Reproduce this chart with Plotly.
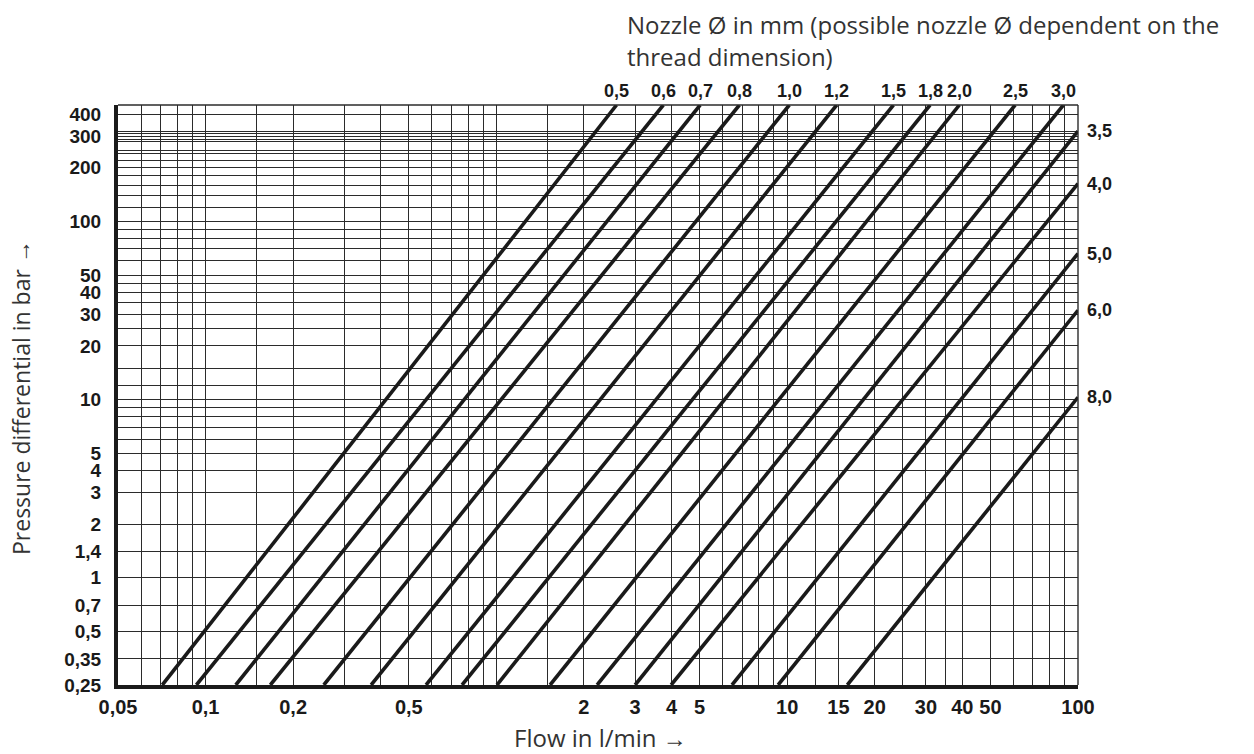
import numpy as np
import plotly.graph_objects as go

# ---------------- data ----------------
# vertical grid (flow, l/min) and horizontal grid (pressure, bar)
flow_grid = [0.05, 0.06, 0.07, 0.08, 0.09, 0.1, 0.15, 0.2, 0.3, 0.4, 0.5, 0.6, 0.7,
             0.8, 0.9, 1, 1.5, 2, 3, 4, 5, 6, 7, 8, 9, 10, 12.5, 15, 20, 25, 30,
             35, 40, 50, 60, 70, 80, 90, 100]
pressure_grid = [0.25, 0.35, 0.5, 0.7, 1, 1.4, 2, 3, 4, 5, 6, 7, 8, 9, 10, 12, 15,
                 20, 25, 30, 35, 40, 45, 50, 60, 70, 80, 90, 100, 120, 140, 160,
                 180, 200, 220, 240, 250, 280, 290, 300, 310, 320, 400]

flow_tick_vals = [0.05, 0.1, 0.2, 0.5, 2, 3, 4, 5, 10, 15, 20, 30, 40, 50, 100]
flow_tick_text = ["0,05", "0,1", "0,2", "0,5", "2", "3", "4", "5", "10", "15",
                  "20", "30", "40", "50", "100"]
pressure_tick_vals = [0.25, 0.35, 0.5, 0.7, 1, 1.4, 2, 3, 4, 5, 10, 20, 30, 40,
                      50, 100, 200, 300, 400]
pressure_tick_text = ["0,25", "0,35", "0,5", "0,7", "1", "1,4", "2", "3", "4", "5",
                      "10", "20", "30", "40", "50", "100", "200", "300", "400"]

# nozzle lines: start point (flow, pressure) and end point (flow, pressure)
nozzle_labels = ["0,5", "0,6", "0,7", "0,8", "1,0", "1,2", "1,5", "1,8", "2,0",
                 "2,5", "3,0", "3,5", "4,0", "5,0", "6,0", "8,0"]
flow_start = [0.071, 0.093, 0.127, 0.167, 0.255, 0.371, 0.573, 0.762, 1.005,
              1.53, 2.22, 3.0, 3.99, 6.46, 9.31, 16.1]
pressure_start = [0.25] * 16
flow_end = [2.59, 3.75, 5.02, 6.85, 10.17, 14.8, 23.2, 31.0, 39.1, 60.8, 89.1,
            100, 100, 100, 100, 100]
pressure_end = [450, 450, 450, 450, 450, 450, 450, 450, 450, 450, 450,
                321, 163, 66, 31.7, 10.3]

X_MIN, X_MAX = 0.05, 100
Y_MIN, Y_MAX = 0.25, 450

# ---------------- figure ----------------
TICK_FONT = dict(family="Liberation Sans Narrow, Arial Narrow, Liberation Sans",
                 size=20, color="#1a1a1a", weight="bold")
YTICK_FONT = dict(TICK_FONT, size=19)
TEXT_FONT = dict(family="Open Sans, Noto Sans, sans-serif", size=24, color="#333333")
GRID = "#2b2b2b"

fig = go.Figure()
for i, lab in enumerate(nozzle_labels):
    fig.add_trace(go.Scatter(
        x=[flow_start[i], flow_end[i]], y=[pressure_start[i], pressure_end[i]],
        mode="lines", line=dict(color="#1a1a1a", width=3.6),
        name=lab, showlegend=False, hoverinfo="skip"))

xlab = dict(zip(flow_tick_vals, flow_tick_text))
ylab = dict(zip(pressure_tick_vals, pressure_tick_text))

fig.update_xaxes(
    type="log", range=[np.log10(X_MIN) - 1e-4, np.log10(X_MAX) + 1e-4],
    tickvals=flow_grid, ticktext=[xlab.get(v, "") for v in flow_grid],
    showgrid=True, gridcolor=GRID, gridwidth=1.4,
    showline=True, linecolor="#1a1a1a", linewidth=4,
    ticks="", ticklabelstandoff=1, tickfont=TICK_FONT, zeroline=False,
    automargin=False)
fig.update_yaxes(
    type="log", range=[np.log10(Y_MIN) - 1e-4, np.log10(Y_MAX)],
    tickvals=pressure_grid, ticktext=[ylab.get(v, "") for v in pressure_grid],
    showgrid=True, gridcolor=GRID, gridwidth=1.4,
    showline=True, linecolor="#1a1a1a", linewidth=4,
    ticks="", ticklabelstandoff=9, tickfont=YTICK_FONT, zeroline=False,
    automargin=False)

# thin top/right frame
fig.add_shape(type="line", xref="paper", yref="paper", x0=0, x1=1, y0=1, y1=1,
              line=dict(color=GRID, width=1.4))
fig.add_shape(type="line", xref="paper", yref="paper", x0=1, x1=1, y0=0, y1=1,
              line=dict(color=GRID, width=1.4))

# nozzle labels
LAB_FONT = dict(family="Liberation Sans Narrow, Arial Narrow, Liberation Sans",
                size=18, color="#1a1a1a", weight="bold")
for i, lab in enumerate(nozzle_labels):
    if pressure_end[i] >= Y_MAX:
        fig.add_annotation(x=np.log10(flow_end[i]), y=1, xref="x", yref="paper",
                           text=lab, showarrow=False, xanchor="center",
                           yanchor="middle", yshift=14, font=LAB_FONT)
    else:
        fig.add_annotation(x=1, y=np.log10(pressure_end[i]), xref="paper", yref="y",
                           text=lab, showarrow=False, xanchor="left",
                           yanchor="middle", xshift=7, font=LAB_FONT)

# titles
fig.add_annotation(x=0.528, y=1.138, xref="paper", yref="paper",
                   text="Nozzle Ø in mm (possible nozzle Ø dependent on the",
                   showarrow=False, xanchor="left", yanchor="middle", font=TEXT_FONT)
fig.add_annotation(x=0.528, y=1.083, xref="paper", yref="paper",
                   text="thread dimension)",
                   showarrow=False, xanchor="left", yanchor="middle", font=TEXT_FONT)
fig.add_annotation(x=0.503, y=-0.091, xref="paper", yref="paper",
                   text="Flow in l/min →", showarrow=False,
                   xanchor="center", yanchor="middle", font=TEXT_FONT)
fig.add_annotation(x=-0.1005, y=0.4957, xref="paper", yref="paper",
                   text="Pressure differential in bar →", showarrow=False,
                   textangle=-90, xanchor="center", yanchor="middle",
                   font=dict(TEXT_FONT, size=23))

# the page adds an 8 px body margin, so the figure is 8 px smaller on each axis
fig.update_layout(
    width=1246, height=746,
    margin=dict(l=110, r=176, t=97, b=69),
    paper_bgcolor="white", plot_bgcolor="white",
    showlegend=False)

fig.write_html("out.html")
